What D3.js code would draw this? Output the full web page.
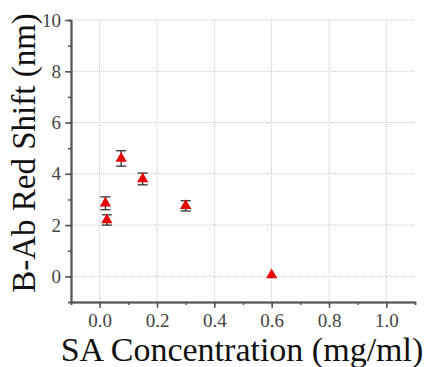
<!DOCTYPE html>
<html>
<head>
<meta charset="utf-8">
<script src="https://cdn.jsdelivr.net/npm/d3@7"></script>
<style>
  body { margin: 0; background: #fff; }
</style>
</head>
<body>
<div id="chart"></div>
<script>
// data
let conc = [0.02, 0.025, 0.075, 0.15, 0.3, 0.6]
let shift = [2.85, 2.2, 4.6, 3.8, 2.75, 0.05]
let err = [0.25, 0.2, 0.3, 0.23, 0.2, 0]
let xTicks = [0.0, 0.2, 0.4, 0.6, 0.8, 1.0]
let yTicks = [0, 2, 4, 6, 8, 10]

let serif = "Liberation Serif"
let width = 427
let height = 367
let margin = { left: 71, right: 12, top: 20, bottom: 65 }

let svg = d3.select("#chart")
    .append("svg")
    .attr("width", width)
    .attr("height", height)
    .attr("font-family", serif)

let x = d3.scaleLinear().domain([-0.1, 1.1]).range([margin.left, width - margin.right])
let y = d3.scaleLinear().domain([-1, 10]).range([height - margin.bottom, margin.top])

// dotted grid
svg.append("g")
    .selectAll("line")
    .data(xTicks)
    .enter()
    .append("line")
    .attr("x1", d => x(d)).attr("x2", d => x(d))
    .attr("y1", y(10)).attr("y2", y(-1))
    .attr("stroke", "#c8c8c8")
    .attr("stroke-dasharray", "1,1")
svg.append("g")
    .selectAll("line")
    .data(yTicks)
    .enter()
    .append("line")
    .attr("x1", x(-0.1)).attr("x2", x(1.1))
    .attr("y1", d => y(d)).attr("y2", d => y(d))
    .attr("stroke", "#c8c8c8")
    .attr("stroke-dasharray", "1,1")

// minor ticks
let xAxisMinor = d3.axisBottom(x).tickValues(d3.range(-0.1, 1.101, 0.1)).tickSize(3).tickFormat("")
let yAxisMinor = d3.axisLeft(y).tickValues(d3.range(-1, 10.01, 1)).tickSize(3).tickFormat("")
svg.append("g").attr("transform", "translate(0," + y(-1) + ")").call(xAxisMinor)
    .call(g => g.selectAll("line,path").attr("stroke", "#555").attr("stroke-width", 1.5))
svg.append("g").attr("transform", "translate(" + x(-0.1) + ",0)").call(yAxisMinor)
    .call(g => g.selectAll("line,path").attr("stroke", "#555").attr("stroke-width", 1.5))

// major axes
let xAxis = d3.axisBottom(x).tickValues(xTicks).tickSize(6).tickSizeOuter(0).tickPadding(6).tickFormat(d3.format(".1f"))
let yAxis = d3.axisLeft(y).tickValues(yTicks).tickSize(6).tickSizeOuter(0).tickPadding(4).tickFormat(d3.format("d"))
svg.append("g").attr("transform", "translate(0," + y(-1) + ")").call(xAxis)
    .attr("font-family", serif)
    .call(g => g.select(".domain").attr("stroke", "#555").attr("stroke-width", 2))
    .call(g => g.selectAll("line").attr("stroke", "#555").attr("stroke-width", 1.5))
    .call(g => g.selectAll("text").attr("font-size", 19).attr("fill", "#444"))
svg.append("g").attr("transform", "translate(" + x(-0.1) + ",0)").call(yAxis)
    .attr("font-family", serif)
    .call(g => g.select(".domain").attr("stroke", "#555").attr("stroke-width", 2))
    .call(g => g.selectAll("line").attr("stroke", "#555").attr("stroke-width", 1.5))
    .call(g => g.selectAll("text").attr("font-size", 19).attr("fill", "#444"))

// error bars
let points = conc.map((c, i) => ({ c: c, v: shift[i], e: err[i] }))
let eb = svg.append("g")
    .selectAll("g")
    .data(points.filter(d => d.e > 0))
    .enter()
    .append("g")
    .attr("stroke", "#222")
    .attr("stroke-width", 1.2)
eb.append("line")
    .attr("x1", d => x(d.c)).attr("x2", d => x(d.c))
    .attr("y1", d => y(d.v + d.e)).attr("y2", d => y(d.v - d.e))
eb.append("line")
    .attr("x1", d => x(d.c) - 5).attr("x2", d => x(d.c) + 5)
    .attr("y1", d => y(d.v + d.e)).attr("y2", d => y(d.v + d.e))
eb.append("line")
    .attr("x1", d => x(d.c) - 5).attr("x2", d => x(d.c) + 5)
    .attr("y1", d => y(d.v - d.e)).attr("y2", d => y(d.v - d.e))

// triangles
svg.append("g")
    .selectAll("path")
    .data(points)
    .enter()
    .append("path")
    .attr("d", d3.symbol().type(d3.symbolTriangle).size(55))
    .attr("transform", d => "translate(" + x(d.c) + "," + y(d.v) + ")")
    .attr("fill", "#e60000")

// axis titles
svg.append("text")
    .attr("x", 242)
    .attr("y", 361)
    .attr("text-anchor", "middle")
    .attr("font-size", 34)
    .attr("fill", "#111")
    .text("SA Concentration (mg/ml)")
svg.append("text")
    .attr("transform", "translate(35,153) rotate(-90)")
    .attr("text-anchor", "middle")
    .attr("font-size", 33)
    .attr("fill", "#111")
    .text("B-Ab Red Shift (nm)")
</script>
</body>
</html>
